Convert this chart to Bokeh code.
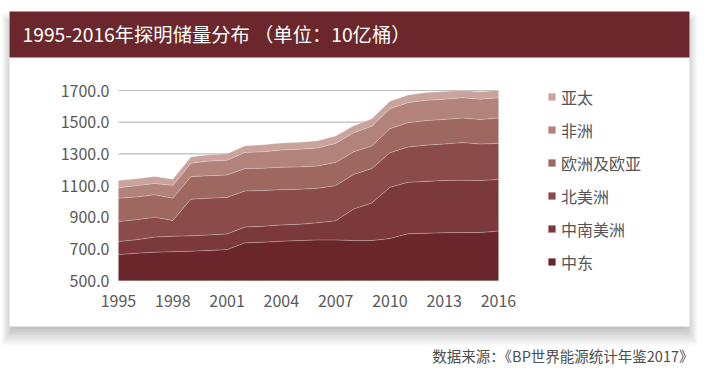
from bokeh.plotting import figure
from bokeh.models import (BoxAnnotation, Label, Legend, LegendItem, FixedTicker,
                          PrintfTickFormatter, Range1d, ColumnDataSource)
from bokeh.transform import stack
from bokeh.embed import file_html
from bokeh.resources import INLINE

# ---------------- data (10亿桶) ----------------
years = list(range(1995, 2017))
middle_east = [664, 672, 679, 682, 685, 690, 695, 738, 742, 748, 752, 756, 756, 752, 752, 765, 795, 798, 802, 803, 803, 812]
s_c_america = [82, 86, 95, 97, 97, 98, 99, 100, 100, 103, 103, 108, 121, 200, 238, 324, 325, 328, 329, 330, 328, 326]
north_america = [126, 126, 126, 100, 231, 232, 231, 228, 226, 222, 221, 218, 222, 218, 217, 218, 223, 229, 231, 238, 231, 228]
europe_eurasia = [147, 144, 141, 141, 143, 142, 141, 141, 141, 143, 141, 141, 147, 143, 143, 152, 154, 155, 155, 155, 155, 160]
africa = [67, 70, 72, 80, 84, 92, 93, 102, 104, 108, 112, 114, 120, 120, 124, 125, 126, 128, 128, 128, 128, 128]
asia_pacific = [45, 45, 44, 40, 40, 41, 41, 42, 44, 44, 44, 45, 46, 45, 47, 48, 48, 49, 48, 47, 47, 47]

region_names = ["中东", "中南美洲", "北美洲", "欧洲及欧亚", "非洲", "亚太"]
region_values = [middle_east, s_c_america, north_america, europe_eurasia, africa, asia_pacific]
colors = ["#6b262b", "#7b393c", "#8b4b4b", "#9e6760", "#b1837b", "#c9a39c"]
x_ticks = [1995, 1998, 2001, 2004, 2007, 2010, 2013, 2016]
y_ticks = [500, 700, 900, 1100, 1300, 1500, 1700]
y_min, y_max = 500, 1700
x_min, x_max = 1995, 2016

title_text = "1995-2016年探明储量分布 （单位：10亿桶）"
source_text = "数据来源：《BP世界能源统计年鉴2017》"

FONT = "Noto Sans CJK SC"

# ---------------- layout geometry (canvas px) ----------------
W, H = 708, 370
PL, PR, PT, PB = 118, 498, 90, 280          # chart area on canvas
CL, CR, CT, CB = 9, 689, 11, 326            # white card
TB = 57                                     # title bar bottom

kx = (x_max - x_min) / (PR - PL)
ky = (y_max - y_min) / (PB - PT)
x_range = Range1d(x_min - PL * kx, x_max + (W - PR) * kx)
y_range = Range1d(y_min - (H - PB) * ky, y_max + PT * ky)


def sy(cy):
    return H - cy


src = ColumnDataSource(dict(year=years, **{n: v for n, v in zip(region_names, region_values)}))

p = figure(width=W, height=H, output_backend="svg", toolbar_location=None,
           x_range=x_range, y_range=y_range,
           min_border_left=0, min_border_right=0, min_border_top=0, min_border_bottom=0)
p.background_fill_color = "white"
p.border_fill_color = "white"
p.outline_line_color = None
p.xgrid.grid_line_color = None
p.ygrid.grid_line_color = None


def box(l, r, t, b, color, alpha):
    return BoxAnnotation(left=l, right=r, top=sy(t), bottom=sy(b),
                         left_units="screen", right_units="screen",
                         top_units="screen", bottom_units="screen",
                         fill_color=color, fill_alpha=alpha, line_color=None,
                         level="image")


# card shadow + card
for s in range(1, 15):
    p.add_layout(box(CL + 6 - s * 1.0, CR - 6 + s * 1.0, CT + 16 - s, CB - 2 + s * 1.5,
                     "black", 0.019))
p.add_layout(box(CL, CR, CT, CB, "white", 1.0))
# title bar
p.add_layout(box(CL, CR, CT, TB, "#6b272c", 1.0))

# horizontal grid lines (drawn under the areas)
p.segment(x0=[x_min] * len(y_ticks), x1=[x_max] * len(y_ticks), y0=y_ticks, y1=y_ticks,
          line_color="#bdbdbd", line_width=1.2)

# stacked areas
areas = []
for i, (name, col) in enumerate(zip(region_names, colors)):
    lower = y_min if i == 0 else stack(*region_names[:i])
    upper = stack(*region_names[:i + 1])
    areas.append(p.varea(x="year", y1=lower, y2=upper, fill_color=col, source=src))
for i in range(len(region_names)):
    p.line(x="year", y=stack(*region_names[:i + 1]), line_color="white",
           line_alpha=0.35, line_width=0.8, source=src)

# axes at fixed locations
xa, ya = p.xaxis[0], p.yaxis[0]
xa.fixed_location = y_min
ya.fixed_location = x_min
for ax in (xa, ya):
    ax.axis_line_color = None
    ax.major_tick_line_color = None
    ax.minor_tick_line_color = None
    ax.major_label_text_font = FONT
    ax.major_label_text_font_size = "16px"
    ax.major_label_text_color = "#595959"
xa.ticker = FixedTicker(ticks=x_ticks)
ya.ticker = FixedTicker(ticks=y_ticks)
ya.formatter = PrintfTickFormatter(format="%.1f")
ya.major_label_standoff = 3
xa.major_label_standoff = 8

# title
p.add_layout(Label(x=22, y=sy(33), x_units="screen", y_units="screen",
                   text=title_text, text_color="white", text_font=FONT,
                   text_font_size="19.3px", text_baseline="middle"))
# source note
p.add_layout(Label(x=693, y=sy(355), x_units="screen", y_units="screen",
                   text=source_text, text_color="#4d4d4d", text_font=FONT,
                   text_font_size="14.5px", text_baseline="middle", text_align="right"))

# legend (location y = distance of the legend's bottom edge from the canvas bottom)
n_items = len(region_names)
item_h, gap = 24, 9
legend_h = n_items * item_h + (n_items - 1) * gap
legend_top = 96.7 - item_h / 2
items = [LegendItem(label=n, renderers=[r]) for n, r in zip(region_names, areas)][::-1]
legend = Legend(items=items, location=(547, H - legend_top - legend_h),
                glyph_width=9, glyph_height=9, label_height=item_h, spacing=gap,
                padding=0, margin=0, border_line_color=None, background_fill_alpha=0,
                label_text_font=FONT, label_text_font_size="16px",
                label_text_color="#555555", label_standoff=5)
p.add_layout(legend)

open("out.html", "w").write(file_html(p, INLINE))
